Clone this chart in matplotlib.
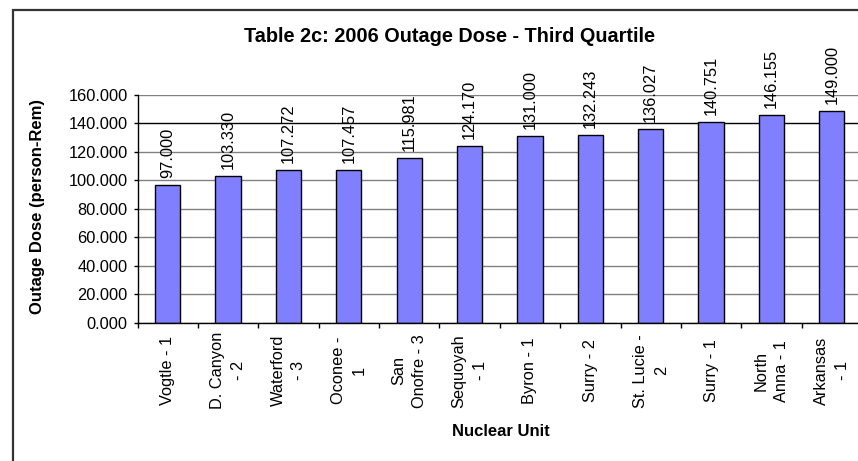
import matplotlib
matplotlib.use("Agg")
import numpy as np
import matplotlib.pyplot as plt
from matplotlib.patches import Rectangle

plt.rcParams['font.family'] = ['Liberation Sans', 'DejaVu Sans']

units = ['Vogtle - 1', 'D. Canyon\n- 2', 'Waterford\n- 3', 'Oconee -\n1',
         'San\nOnofre - 3', 'Sequoyah\n- 1', 'Byron - 1', 'Surry - 2',
         'St. Lucie -\n2', 'Surry - 1', 'North\nAnna - 1', 'Arkansas\n- 1']
dose = [97.000, 103.330, 107.272, 107.457, 115.981, 124.170,
        131.000, 132.243, 136.027, 140.751, 146.155, 149.000]
yticks = [0, 20, 40, 60, 80, 100, 120, 140, 160]

W, H = 858, 461
fig = plt.figure(figsize=(W / 100, H / 100), dpi=100)
fig.patch.set_facecolor('white')

# chart border (cut off at right/bottom like the reference)
fig.patches.append(Rectangle((13 / W, -0.1), 1.2, (H - 10) / H + 0.1,
                             transform=fig.transFigure, fill=False,
                             edgecolor='#333333', linewidth=1.6))

left, right, top, bottom = 137.5, 862, 95, 322.7
ax = fig.add_axes([left / W, (H - bottom) / H, (right - left) / W, (bottom - top) / H])

x = np.arange(len(units))
bars = ax.bar(x, dose, width=0.42, color='#8080FF', edgecolor='black', linewidth=1.0, zorder=3)

ax.set_xlim(-0.5, len(units) - 0.5)
ax.set_ylim(0, 160)
ax.set_yticks(yticks)
ax.set_yticklabels(['%.3f' % v for v in yticks], fontsize=11.8)
ax.yaxis.grid(True, color='#808080', linewidth=1.0, zorder=0)
ax.get_ygridlines()[7].set_color('black')

ax.set_xticks(x)
ax.set_xticklabels(units, rotation=90, fontsize=11.8, va='center', ha='center',
                   multialignment='center', linespacing=1.5)
ax.tick_params(axis='x', which='major', length=0, pad=34.6)
ax.set_xticks(np.arange(-0.5, len(units), 1.0), minor=True)
ax.tick_params(axis='x', which='minor', length=3.8, width=1.0, direction='out')
ax.tick_params(axis='y', length=3.0, width=1.0, direction='out', pad=4)

for s in ['top', 'right']:
    ax.spines[s].set_visible(False)
for s in ['left', 'bottom']:
    ax.spines[s].set_linewidth(1.0)
    ax.spines[s].set_zorder(4)

for b, v in zip(bars, dose):
    ax.annotate('%.3f' % v, (b.get_x() + b.get_width() / 2, v), xytext=(0, 5),
                textcoords='offset points', rotation=90, ha='center', va='bottom',
                fontsize=11.8)

fig.text(450 / W, (H - 37) / H, 'Table 2c: 2006 Outage Dose - Third Quartile',
         fontsize=14.3, fontweight='bold', ha='center', va='center')
fig.text(38 / W, (H - 206) / H, 'Outage Dose (person-Rem)', fontsize=12,
         fontweight='bold', rotation=90, ha='center', va='center')
fig.text(501 / W, (H - 431) / H, 'Nuclear Unit', fontsize=12,
         fontweight='bold', ha='center', va='center')

fig.savefig('out.png', dpi=100)
